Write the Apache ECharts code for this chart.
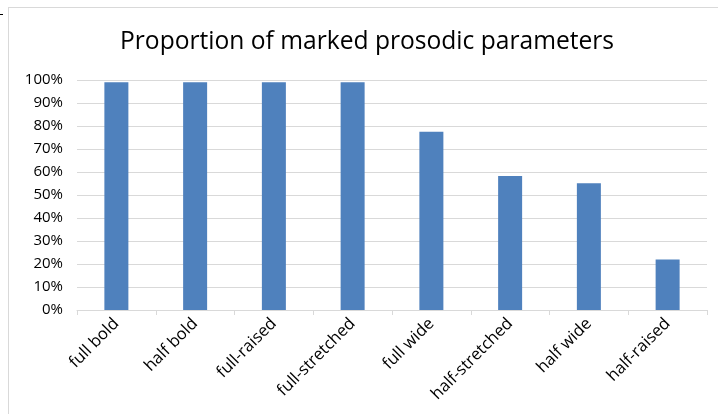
<!DOCTYPE html>
<html><head><meta charset="utf-8">
<script src="https://cdn.jsdelivr.net/npm/echarts@6/dist/echarts.min.js"></script>
<style>html,body{margin:0;padding:0;background:#fff}#c{width:718px;height:414px}</style>
</head><body><div id="c"></div>
<script>
const categories = ["full bold","half bold","full-raised","full-stretched","full wide","half-stretched","half wide","half-raised"];
const proportions = [0.99,0.99,0.99,0.99,0.775,0.583,0.551,0.22];
const titleText = "Proportion of marked prosodic parameters";

const chart = echarts.init(document.getElementById('c'));
chart.setOption({
  animation:false,
  backgroundColor:'#fff',
  title:{text:titleText,left:115,top:24,textStyle:{fontFamily:'Open Sans',fontWeight:'normal',fontSize:24.6,color:'#000'}},
  grid:{left:77,right:11,top:80,bottom:104,containLabel:false},
  xAxis:{type:'category',data:categories,boundaryGap:true,
    axisLine:{lineStyle:{color:'#d9d9d9',width:1}},
    axisTick:{show:true,alignWithLabel:false,length:5,lineStyle:{color:'#d9d9d9'}},
    axisLabel:{rotate:45,interval:0,fontFamily:'Open Sans',fontSize:16.5,color:'#000',margin:11}},
  yAxis:{type:'value',min:0,max:1,interval:0.1,
    axisLine:{show:false},axisTick:{show:false},
    splitLine:{lineStyle:{color:'#d9d9d9',width:1}},
    axisLabel:{fontFamily:'Open Sans',fontSize:15,color:'#000',margin:14,formatter:v=>Math.round(v*100)+'%'}},
  series:[{type:'bar',data:proportions,barWidth:24,itemStyle:{color:'#4f81bd'}}],
  graphic:[
    {type:'line',shape:{x1:8.5,y1:7,x2:8.5,y2:414},style:{stroke:'#d9d9d9',lineWidth:1}},
    {type:'line',shape:{x1:8,y1:7.5,x2:718,y2:7.5},style:{stroke:'#d9d9d9',lineWidth:1}},
    {type:'line',shape:{x1:0,y1:14.5,x2:3,y2:14.5},style:{stroke:'#000',lineWidth:1}}
  ]
});
</script></body></html>
